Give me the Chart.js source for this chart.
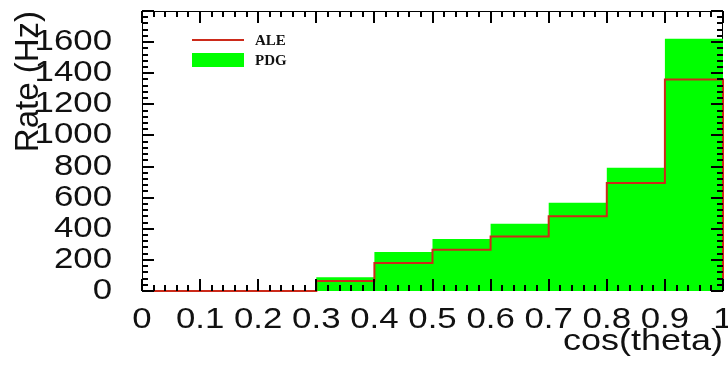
<!DOCTYPE html>
<html>
<head>
<meta charset="utf-8">
<script src="https://cdn.jsdelivr.net/npm/chart.js@4"></script>
<style>
  html, body { margin: 0; padding: 0; background: #fff; }
</style>
</head>
<body>
<canvas id="rateChart" width="728" height="369"></canvas>
<script>
// histogram bins (cos theta) and rates in Hz
const binEdges = [0, 0.1, 0.2, 0.3, 0.4, 0.5, 0.6, 0.7, 0.8, 0.9, 1.0];
const aleRates = [0, 0, 0, 65, 180, 265, 350, 480, 695, 1360];
const pdgRates = [0, 0, 0, 88, 251, 334, 433, 567, 792, 1621];
const seriesNames = ['ALE', 'PDG'];
const yMax = 1800;

const SANS = "'Liberation Sans', Arial, sans-serif";
const RED = '#cc2a1a';
const GREEN = '#00ff00';

// the original plot is a bit wider than tall, axis text looks stretched sideways
const TEXT_STRETCH = 1.2;
const baseFillText = CanvasRenderingContext2D.prototype.fillText;
CanvasRenderingContext2D.prototype.fillText = function (text, x, y, maxWidth) {
  const m = this.getTransform();
  if (!this.font.includes('Liberation Sans') || Math.abs(m.b) > 1e-6) {
    return baseFillText.call(this, text, x, y);
  }
  this.save();
  this.translate(x, y);
  this.scale(TEXT_STRETCH, 1);
  baseFillText.call(this, text, 0, 0);
  this.restore();
};

// turn bin contents into points for a stepped line (histogram outline)
function toSteps(vals) {
  const pts = vals.map((v, i) => ({ x: binEdges[i], y: v }));
  const last = binEdges[binEdges.length - 1];
  pts.push({ x: last, y: vals[vals.length - 1] });
  pts.push({ x: last, y: 0 });
  return pts;
}

// ROOT style frame with ticks pointing inwards
const rootFrame = {
  id: 'rootFrame',
  beforeDatasetsDraw(chart) {
    const { ctx, chartArea: a } = chart;
    ctx.save();
    ctx.strokeStyle = '#000';
    ctx.lineWidth = 1;
    ctx.strokeRect(a.left + 0.5, a.top + 0.5, a.right - a.left - 1, a.bottom - a.top - 1);
    ctx.restore();
  },
  afterDatasetsDraw(chart) {
    const { ctx, chartArea: a, scales: { x, y } } = chart;
    ctx.save();
    ctx.strokeStyle = '#000';
    ctx.lineWidth = 2;
    ctx.beginPath();
    for (let i = 0; i <= 50; i++) {
      const px = Math.round(x.getPixelForValue(i / 50));
      const len = i % 5 === 0 ? 12 : 6;
      ctx.moveTo(px, a.bottom); ctx.lineTo(px, a.bottom - len);
      ctx.moveTo(px, a.top); ctx.lineTo(px, a.top + len);
    }
    for (let i = 0; i <= 45; i++) {
      const py = Math.round(y.getPixelForValue(i * 40));
      const len = i % 5 === 0 ? 12 : 6;
      ctx.moveTo(a.left, py); ctx.lineTo(a.left + len, py);
      ctx.moveTo(a.right, py); ctx.lineTo(a.right - len, py);
    }
    ctx.stroke();
    ctx.restore();
  }
};

// legend box inside the frame, top left
const rootLegend = {
  id: 'rootLegend',
  afterDraw(chart) {
    const { ctx, chartArea: a } = chart;
    const ds = chart.data.datasets;
    const x0 = a.left + 50, x1 = a.left + 102;
    ctx.save();
    ctx.strokeStyle = ds[0].borderColor;
    ctx.lineWidth = 2;
    ctx.beginPath();
    ctx.moveTo(x0, a.top + 29); ctx.lineTo(x1, a.top + 29);
    ctx.stroke();
    ctx.fillStyle = ds[1].backgroundColor;
    ctx.fillRect(x0, a.top + 42, x1 - x0, 14);
    ctx.fillStyle = '#111';
    ctx.font = "bold 15px 'Liberation Serif', 'Times New Roman', serif";
    ctx.textBaseline = 'middle';
    ctx.fillText(ds[0].label, a.left + 113, a.top + 30);
    ctx.fillText(ds[1].label, a.left + 113, a.top + 50);
    ctx.restore();
  }
};

new Chart(document.getElementById('rateChart'), {
  type: 'line',
  data: {
    datasets: [
      {
        label: seriesNames[0],
        data: toSteps(aleRates),
        stepped: 'before',
        borderColor: RED,
        borderWidth: 2,
        pointRadius: 0,
        fill: false,
        clip: 4,
        order: 0
      },
      {
        label: seriesNames[1],
        data: toSteps(pdgRates),
        stepped: 'before',
        borderWidth: 0,
        borderColor: GREEN,
        backgroundColor: GREEN,
        pointRadius: 0,
        fill: 'origin',
        order: 1
      }
    ]
  },
  options: {
    responsive: false,
    animation: false,
    devicePixelRatio: 1,
    layout: { padding: { top: 11, right: 5, left: 0, bottom: 0 } },
    plugins: { legend: { display: false }, tooltip: { enabled: false } },
    scales: {
      x: {
        type: 'linear',
        min: 0,
        max: 1,
        afterFit(s) { s.height = 78; s.paddingLeft = 0; s.paddingRight = 0; },
        grid: { display: false, drawTicks: false },
        border: { display: false },
        ticks: {
          stepSize: 0.1,
          autoSkip: false,
          maxRotation: 0,
          padding: 12,
          color: '#111',
          font: { family: SANS, size: 29 },
          callback: v => (v === 0 || v === 1) ? String(v) : v.toFixed(1)
        },
        title: {
          display: true,
          text: 'cos(theta)',
          align: 'end',
          color: '#111',
          padding: { top: 0, bottom: 9 },
          font: { family: SANS, size: 30 }
        }
      },
      y: {
        min: 0,
        max: yMax,
        afterFit(s) { s.width = 142; s.paddingTop = 0; s.paddingBottom = 0; },
        grid: { display: false, drawTicks: false },
        border: { display: false },
        ticks: {
          stepSize: 200,
          autoSkip: false,
          padding: 30,
          color: '#111',
          font: { family: SANS, size: 29 },
          callback: v => v >= yMax ? null : v
        },
        title: {
          display: true,
          text: 'Rate (Hz)',
          align: 'end',
          color: '#111',
          padding: { top: 9, bottom: 0 },
          font: { family: SANS, size: 33 }
        }
      }
    }
  },
  plugins: [rootFrame, rootLegend]
});
</script>
</body>
</html>
